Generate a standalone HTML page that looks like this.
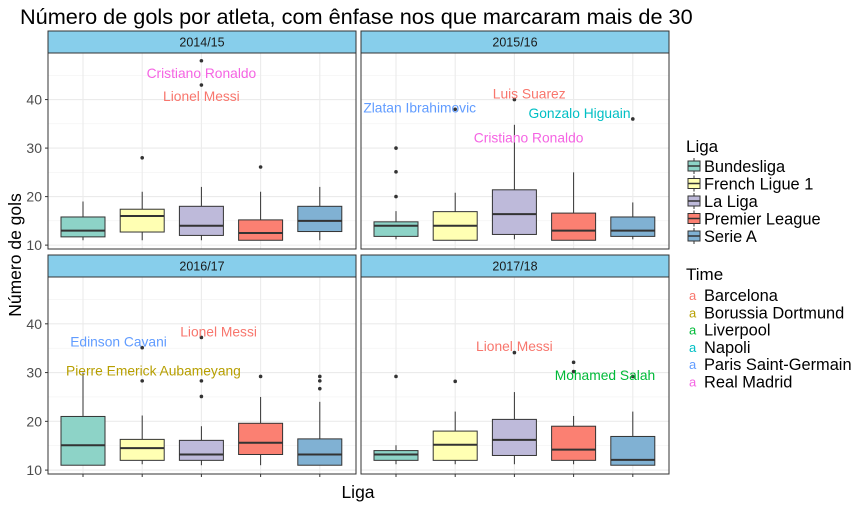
<!DOCTYPE html>
<html><head><meta charset="utf-8"><style>
body{margin:0;background:#fff;font-family:"Liberation Sans",Arial,sans-serif}
svg text{font-family:"Liberation Sans",Arial,sans-serif}
</style></head><body>
<svg id="c" width="864" height="504" xmlns="http://www.w3.org/2000/svg">
<text x="20" y="24" font-size="21.7" fill="#000">Número de gols por atleta, com ênfase nos que marcaram mais de 30</text>
<text transform="translate(21,255) rotate(-90)" text-anchor="middle" font-size="17.5">Número de gols</text>
<text x="358" y="498" text-anchor="middle" font-size="17.5">Liga</text>
<g id="panels"></g>
<g id="legend"></g>
</svg>
<script>
const leagues=["Bundesliga","French Ligue 1","La Liga","Premier League","Serie A"];
const fills=["#8DD3C7","#FFFFB3","#BEBADA","#FB8072","#80B1D3"];
const seasons=["2014/15","2015/16","2016/17","2017/18"];
const yTicks=[10,20,30,40];
// [low, q1, median, q3, high] per league per season
const stats1415=[[11,11.7,13,15.8,19],[11,12.7,16,17.4,21],[11,12,14,18,22],[11,11,12.5,15.2,21],[11,12.8,15,18,22]];
const stats1516=[[11.2,11.8,14,14.8,17],[11,11,14,16.9,20.8],[11.2,12.2,16.4,21.4,34.8],[11,11,13,16.6,25],[11.2,11.8,13,15.8,18.8]];
const stats1617=[[11,11,15.1,21,30],[11.2,12,14.5,16.3,21.2],[11,12,13.2,16.1,19],[11,13.2,15.6,19.6,25],[11,11,13.2,16.4,24]];
const stats1718=[[11.2,12,13.2,14,15.1],[11.2,12,15.2,18,22],[11.2,13,16.2,20.4,26],[11.2,12,14.2,19,21.1],[11,11,12.1,16.9,22]];
const out1415=[[],[28],[48,43],[26.1],[]];
const out1516=[[30,25.1,20],[38],[40],[],[36]];
const out1617=[[],[35.1,28.3],[37.2,28.3,25.1],[29.2],[29.2,28.3,26.7]];
const out1718=[[29.2],[28.2],[34.1],[32.1,30.2],[29.2]];
const teams=["Barcelona","Borussia Dortmund","Liverpool","Napoli","Paris Saint-Germain","Real Madrid"];
const teamColors=["#F8766D","#B79F00","#00BA38","#00BFC4","#619CFF","#F564E3"];
// labels: [text, team index, league position (fractional), value]
const lab1415=[["Cristiano Ronaldo",5,2,45.4],["Lionel Messi",0,2,40.6]];
const lab1516=[["Zlatan Ibrahimovic",4,0.4,38.3],["Luis Suarez",0,2.25,41.2],["Gonzalo Higuain",3,3.1,37.1],["Cristiano Ronaldo",5,2.24,32.1]];
const lab1617=[["Edinson Cavani",4,0.6,36.3],["Lionel Messi",0,2.29,38.3],["Pierre Emerick Aubameyang",1,1.19,30.3]];
const lab1718=[["Lionel Messi",0,2.0,35.3],["Mohamed Salah",2,3.53,29.4]];
const allStats=[stats1415,stats1516,stats1617,stats1718];
const allOut=[out1415,out1516,out1617,out1718];
const allLab=[lab1415,lab1516,lab1617,lab1718];

const NS="http://www.w3.org/2000/svg";
function mk(tag,attrs,parent){const e=document.createElementNS(NS,tag);for(const k in attrs)e.setAttribute(k,attrs[k]);parent.appendChild(e);return e;}
const geo=[{x0:48,x1:356,y0:53,y1:249,s0:31},{x0:361,x1:669,y0:53,y1:249,s0:31},{x0:48,x1:356,y0:277,y1:474,s0:255},{x0:361,x1:669,y0:277,y1:474,s0:255}];
const yMin=9.2,yMax=49.6;
const G=document.getElementById("panels");
seasons.forEach((s,pi)=>{
  const g=geo[pi];
  const Y=v=>g.y1-(v-yMin)/(yMax-yMin)*(g.y1-g.y0);
  const X=i=>g.x0+35+i*59.2;
  const pg=mk("g",{},G);
  
  
  const st=mk("rect",{x:g.x0,y:g.s0,width:g.x1-g.x0,height:g.y0-g.s0,fill:"#87CEEB",stroke:"#333","stroke-width":1},pg);
  
  
  const stt=mk("text",{x:(g.x0+g.x1)/2,y:g.s0+15.5,"text-anchor":"middle","font-size":"12.5",fill:"#1a1a1a"},pg);
  stt.textContent=s;
  
  
  for(let v=15;v<=45;v+=10)mk("line",{x1:g.x0,x2:g.x1,y1:Y(v),y2:Y(v),stroke:"#f2f2f2","stroke-width":0.6},pg);
  yTicks.forEach(v=>mk("line",{x1:g.x0,x2:g.x1,y1:Y(v),y2:Y(v),stroke:"#ebebeb","stroke-width":1.1},pg));
  leagues.forEach((l,i)=>mk("line",{x1:X(i),x2:X(i),y1:g.y0,y2:g.y1,stroke:"#ebebeb","stroke-width":1.1},pg));
  if(pi%2===0){yTicks.forEach(v=>{
    const t=mk("text",{x:g.x0-6,y:Y(v)+5,"text-anchor":"end","font-size":"14",fill:"#4d4d4d"},pg);
    t.textContent=v;
    
    
  });
    yTicks.forEach(v=>mk("line",{x1:g.x0-3,x2:g.x0,y1:Y(v),y2:Y(v),stroke:"#333"},pg));
  }
  if(pi>=2)leagues.forEach((l,i)=>mk("line",{x1:X(i),x2:X(i),y1:g.y1,y2:g.y1+3,stroke:"#333"},pg));
  allStats[pi].forEach((b,i)=>{
    const bg=mk("g",{},pg);
    
    
    mk("line",{x1:X(i),x2:X(i),y1:Y(b[0]),y2:Y(b[1]),stroke:"#333","stroke-width":1},bg);
    mk("line",{x1:X(i),x2:X(i),y1:Y(b[3]),y2:Y(b[4]),stroke:"#333","stroke-width":1},bg);
    mk("rect",{x:X(i)-22,y:Y(b[3]),width:44,height:Y(b[1])-Y(b[3]),fill:fills[i],stroke:"#333","stroke-width":1},bg);
    mk("line",{x1:X(i)-22,x2:X(i)+22,y1:Y(b[2]),y2:Y(b[2]),stroke:"#333","stroke-width":2},bg);
    allOut[pi][i].forEach(v=>{
      const c=mk("circle",{cx:X(i),cy:Y(v),r:1.8,fill:"#333"},bg);
      
      
    });
  });
  allLab[pi].forEach(a=>{
    const t=mk("text",{x:X(a[2]),y:Y(a[3])+4.5,"text-anchor":"middle","font-size":"13.8",fill:teamColors[a[1]]},pg);
    t.textContent=a[0];
    
    
  });
  mk("rect",{x:g.x0,y:g.y0,width:g.x1-g.x0,height:g.y1-g.y0,fill:"none",stroke:"#333","stroke-width":1},pg);
});
const L=document.getElementById("legend");
const lt=mk("text",{x:686,y:152,"font-size":"17"},L);lt.textContent="Liga";


leagues.forEach((l,i)=>{
  const y=166+i*17.5;
  const eg=mk("g",{},L);
  
  
  mk("line",{x1:694,x2:694,y1:y-8,y2:y+8,stroke:"#333"},eg);
  mk("rect",{x:688,y:y-5,width:12,height:10,fill:fills[i],stroke:"#333"},eg);
  mk("line",{x1:688,x2:700,y1:y,y2:y,stroke:"#333","stroke-width":1.5},eg);
  const t=mk("text",{x:704,y:y+6,"font-size":"16.4"},eg);t.textContent=l;
});
const tt=mk("text",{x:686,y:280,"font-size":"17"},L);tt.textContent="Time";


teams.forEach((tm,i)=>{
  const y=295+i*17.3;
  const eg=mk("g",{},L);
  
  
  const a=mk("text",{x:689,y:y+5,"font-size":"13",fill:teamColors[i]},eg);a.textContent="a";
  const t=mk("text",{x:704,y:y+6,"font-size":"16.4"},eg);t.textContent=tm;
});
</script>
</body></html>
